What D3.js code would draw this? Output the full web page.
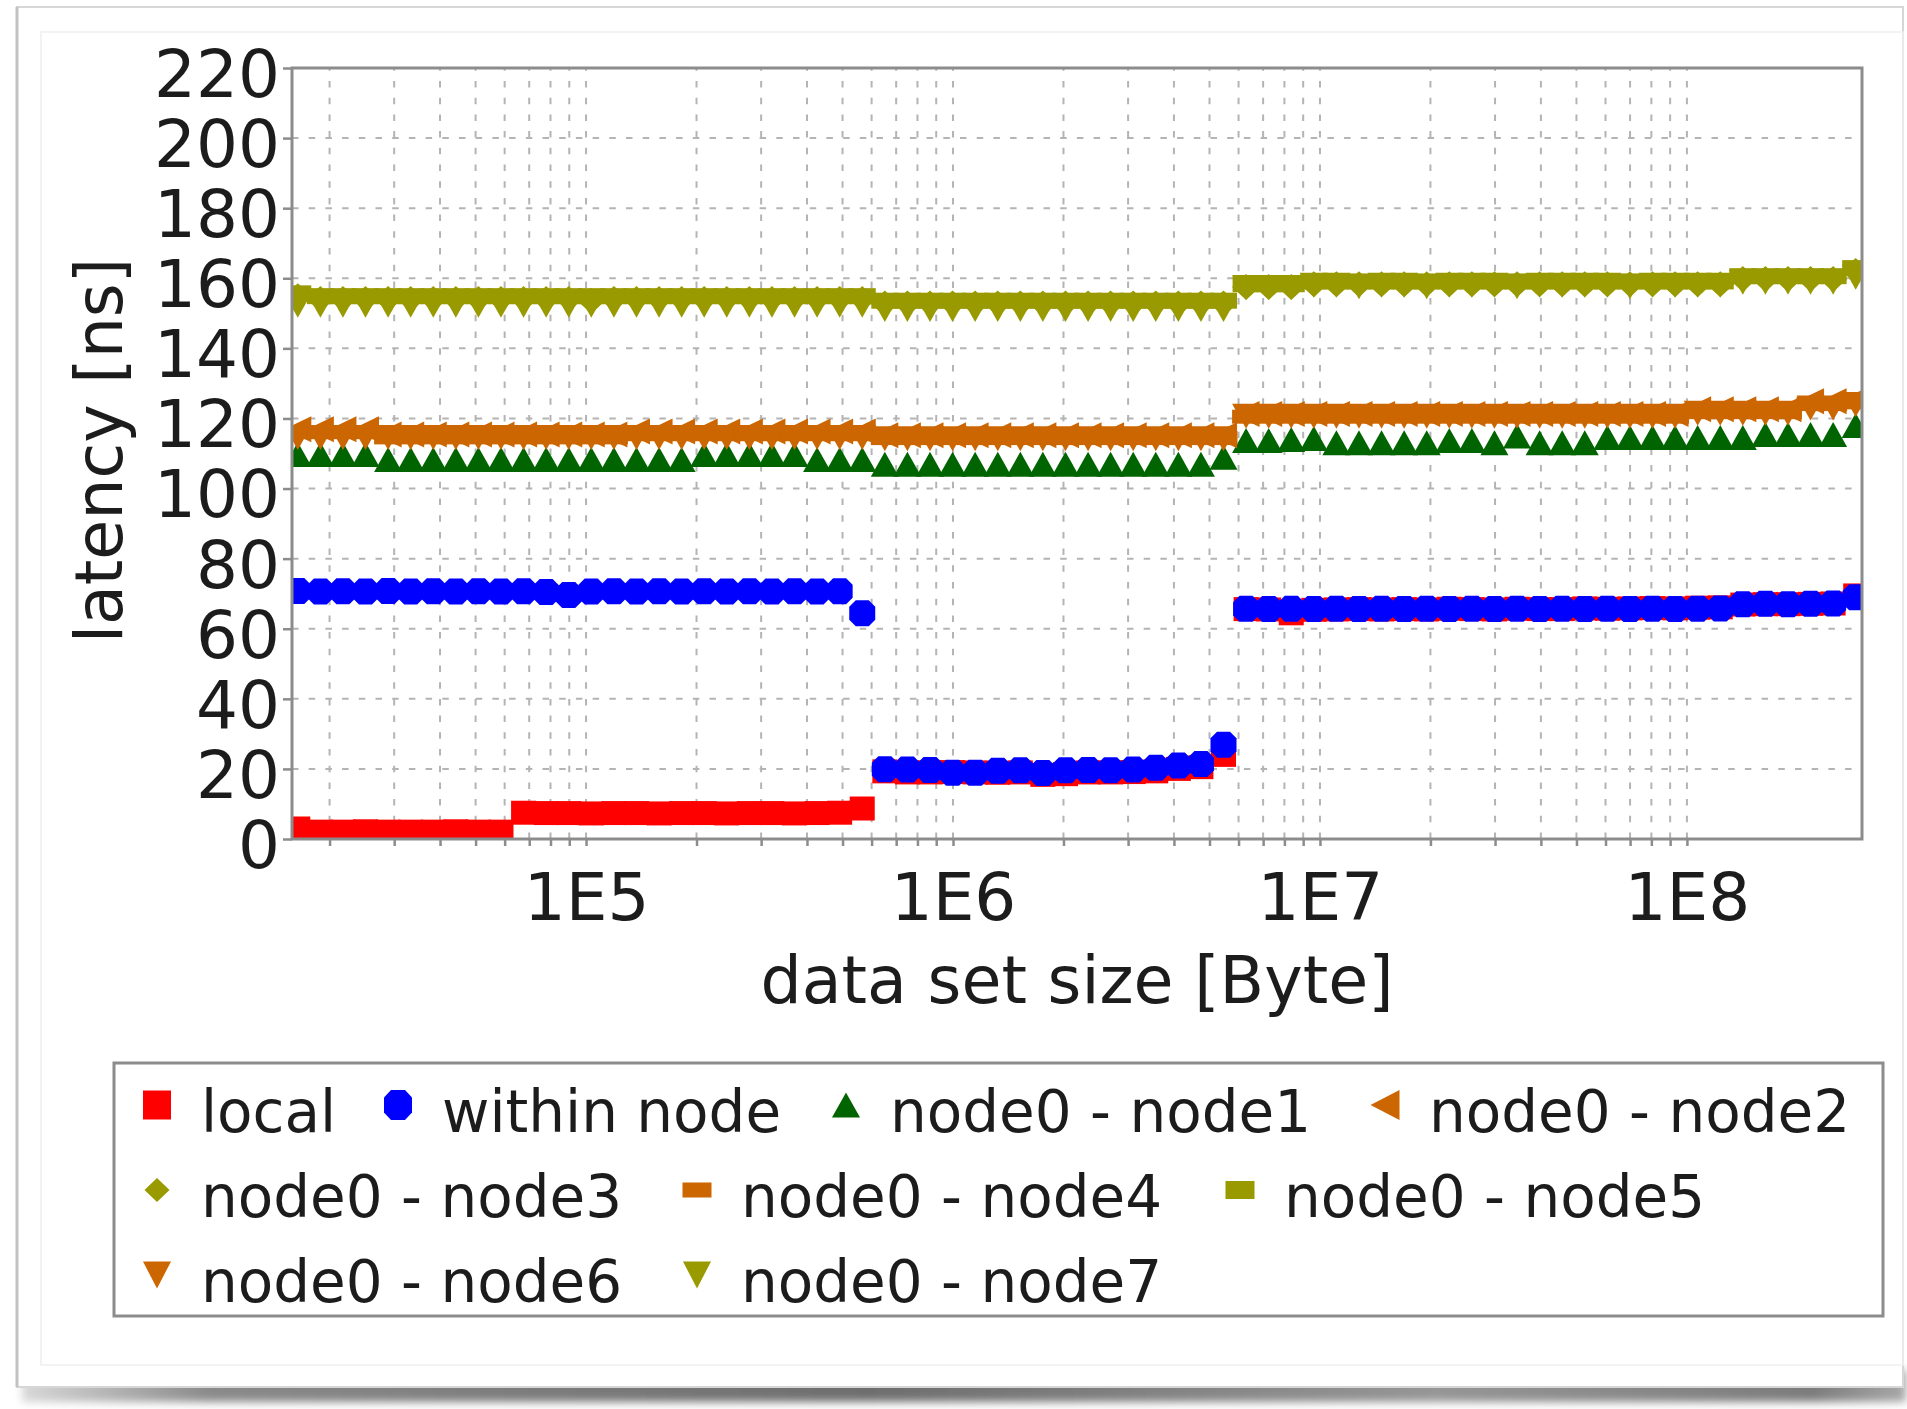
<!DOCTYPE html>
<html>
<head>
<meta charset="utf-8">
<title>Memory access latency by data set size</title>
<script src="https://cdn.jsdelivr.net/npm/d3@7/dist/d3.min.js"></script>
<style>
  html, body { margin: 0; padding: 0; background: #ffffff; }
  svg { display: block; font-family: "DejaVu Sans", Verdana, sans-serif; }
</style>
</head>
<body>
<svg id="chart" width="1907" height="1409"></svg>
<script>
// ---------------------------------------------------------------------------
// Data: data set sizes (KiB) and measured latencies (ns) per access path
// ---------------------------------------------------------------------------
const sizesKiB = [
  16, 18.44, 21.24, 24.47, 28.20, 32.49, 37.44, 43.13, 49.70, 57.26,
  65.98, 76.02, 87.59, 100.9, 116.3, 134.0, 154.4, 177.9, 204.9, 236.1,
  272.1, 313.5, 361.2, 416.2, 479.5, 552.5, 636.6, 733.5, 845.2, 973.8,
  1122, 1293, 1490, 1716, 1978, 2279, 2625, 3025, 3485, 4016,
  4627, 5331, 6143, 7078, 8155, 9396, 10826, 12474, 14372, 16560,
  19081, 21985, 25331, 29186, 33629, 38747, 44645, 51440, 59269, 68290,
  78684, 90660, 104459, 120358, 138677, 159784, 184104, 212125, 244410, 281610
];

const yTickValues = [0, 20, 40, 60, 80, 100, 120, 140, 160, 180, 200, 220];
const xLabelValues = [1e5, 1e6, 1e7, 1e8];
const xLabelText = ["1E5", "1E6", "1E7", "1E8"];

const local = [
  3.0, 2.1, 2.1, 2.2, 2.1, 2.1, 2.1, 2.2, 2.1, 2.1,
  7.5, 7.4, 7.4, 7.3, 7.4, 7.4, 7.3, 7.4, 7.4, 7.3,
  7.4, 7.4, 7.3, 7.4, 7.5, 8.7, 19.3, 19.0, 19.0, 19.1,
  19.0, 18.9, 19.0, 18.3, 18.5, 19.0, 19.0, 19.1, 19.3, 20.0,
  20.5, 24.0, 65.6, 65.5, 64.4, 65.4, 65.5, 65.6, 65.5, 65.6,
  65.5, 65.7, 65.6, 65.5, 65.7, 65.6, 65.6, 65.8, 65.7, 65.8,
  65.9, 65.8, 66.0, 66.1, 66.9, 67.0, 67.0, 67.1, 67.2, 69.5
];
const withinNode = [
  70.8, 70.6, 70.7, 70.6, 70.8, 70.6, 70.7, 70.6, 70.7, 70.6,
  70.7, 70.5, 69.6, 70.6, 70.7, 70.6, 70.7, 70.6, 70.7, 70.6,
  70.7, 70.6, 70.7, 70.6, 70.7, 64.4, 19.9, 19.8, 19.7, 18.9,
  18.9, 19.5, 19.6, 18.8, 19.6, 19.7, 19.6, 19.8, 20.3, 21.0,
  21.4, 26.9, 65.7, 65.6, 65.7, 65.6, 65.7, 65.6, 65.7, 65.6,
  65.7, 65.6, 65.7, 65.6, 65.7, 65.6, 65.7, 65.6, 65.7, 65.6,
  65.7, 65.6, 65.7, 65.8, 67.0, 67.1, 67.0, 67.1, 67.2, 69.0
];
const node01 = [
  109.7, 109.7, 109.7, 109.7, 108.3, 108.3, 108.3, 108.3, 108.3, 108.3,
  108.3, 108.3, 108.3, 108.3, 108.3, 108.3, 108.3, 108.3, 109.7, 109.7,
  109.7, 109.7, 109.7, 108.3, 108.3, 108.3, 106.9, 106.9, 106.9, 106.9,
  106.9, 106.9, 106.9, 106.9, 106.9, 106.9, 106.9, 106.9, 106.9, 106.9,
  106.9, 108.9, 113.7, 113.7, 114.0, 114.3, 113.1, 113.1, 113.1, 113.1,
  113.1, 113.7, 113.7, 113.1, 115.0, 113.1, 113.1, 113.1, 114.6, 114.6,
  114.6, 114.6, 114.6, 114.6, 114.6, 115.4, 115.4, 115.4, 115.4, 118.0
];
const node02 = [
  116.9, 116.9, 116.9, 116.9, 115.4, 115.4, 115.4, 115.4, 115.4, 115.4,
  115.4, 115.4, 115.4, 115.4, 115.4, 116.3, 116.3, 116.3, 116.3, 116.3,
  116.3, 116.3, 116.3, 116.3, 116.3, 116.3, 115.2, 115.2, 115.2, 115.2,
  115.2, 115.2, 115.2, 115.2, 115.2, 115.2, 115.2, 115.2, 115.2, 115.2,
  115.2, 115.2, 121.3, 121.3, 121.3, 121.3, 121.3, 121.3, 121.3, 121.3,
  121.3, 121.3, 121.3, 121.3, 121.3, 121.3, 121.3, 121.3, 121.3, 121.3,
  121.3, 121.3, 122.6, 122.6, 122.6, 122.6, 122.6, 124.9, 124.9, 125.4
];
const node03 = [
  154.9, 154.1, 154.1, 154.1, 154.1, 154.1, 154.1, 154.1, 154.1, 154.1,
  154.1, 154.1, 154.1, 153.6, 154.1, 154.1, 154.1, 154.1, 154.1, 154.1,
  154.1, 154.1, 154.1, 154.1, 154.1, 154.1, 152.8, 152.8, 152.8, 152.8,
  152.8, 152.8, 152.8, 152.8, 152.8, 152.8, 152.8, 152.8, 152.8, 152.8,
  152.8, 152.8, 157.5, 157.5, 157.5, 158.3, 158.3, 158.3, 158.3, 158.3,
  158.3, 158.3, 158.3, 158.3, 158.3, 158.3, 158.3, 158.3, 158.3, 158.3,
  158.3, 158.3, 158.3, 158.3, 159.8, 159.8, 159.8, 159.8, 159.8, 162.1
];
const node04 = [
  116.1, 116.1, 116.1, 116.1, 114.6, 114.6, 114.6, 114.6, 114.6, 114.6,
  114.6, 114.6, 114.6, 114.6, 114.6, 115.5, 115.5, 115.5, 115.5, 115.5,
  115.5, 115.5, 115.5, 115.5, 115.5, 115.5, 114.4, 114.4, 114.4, 114.4,
  114.4, 114.4, 114.4, 114.4, 114.4, 114.4, 114.4, 114.4, 114.4, 114.4,
  114.4, 114.4, 120.5, 120.5, 120.5, 120.5, 120.5, 120.5, 120.5, 120.5,
  120.5, 120.5, 120.5, 120.5, 120.5, 120.5, 120.5, 120.5, 120.5, 120.5,
  120.5, 120.5, 121.8, 121.8, 121.8, 121.8, 121.8, 124.1, 124.1, 124.6
];
const node05 = [
  155.7, 154.9, 154.9, 154.9, 154.9, 154.9, 154.9, 154.9, 154.9, 154.9,
  154.9, 154.9, 154.9, 154.9, 154.9, 154.9, 154.9, 154.9, 154.9, 154.9,
  154.9, 154.9, 154.9, 154.9, 154.9, 154.9, 153.6, 153.6, 153.6, 153.6,
  153.6, 153.6, 153.6, 153.6, 153.6, 153.6, 153.6, 153.6, 153.6, 153.6,
  153.6, 153.6, 158.3, 158.3, 158.3, 159.1, 159.1, 159.1, 159.1, 159.1,
  159.1, 159.1, 159.1, 159.1, 159.1, 159.1, 159.1, 159.1, 159.1, 159.1,
  159.1, 159.1, 159.1, 159.1, 160.6, 160.6, 160.6, 160.6, 160.6, 162.9
];
const node06 = [
  114.6, 114.6, 114.6, 114.6, 114.6, 114.6, 114.6, 114.6, 114.6, 114.6,
  114.6, 114.6, 114.6, 114.6, 114.6, 114.6, 114.6, 114.6, 114.6, 114.6,
  114.6, 114.6, 114.6, 114.6, 114.6, 114.6, 114.2, 114.2, 114.2, 114.2,
  114.2, 114.2, 114.2, 114.2, 114.2, 114.2, 114.2, 114.2, 114.2, 114.2,
  114.2, 114.2, 120.6, 120.6, 120.6, 120.6, 120.6, 120.6, 120.6, 120.6,
  120.6, 120.6, 120.6, 120.6, 120.6, 120.6, 120.6, 120.6, 120.6, 120.6,
  120.6, 120.6, 121.5, 121.5, 121.5, 121.5, 121.5, 123.0, 123.0, 124.0
];
const node07 = [
  152.3, 152.3, 152.3, 152.3, 152.3, 152.3, 152.3, 152.3, 152.3, 152.3,
  152.3, 152.3, 152.3, 152.3, 152.3, 152.3, 152.3, 152.3, 152.3, 152.3,
  152.3, 152.3, 152.3, 152.3, 152.3, 152.3, 151.1, 151.1, 151.1, 151.1,
  151.1, 151.1, 151.1, 151.1, 151.1, 151.1, 151.1, 151.1, 151.1, 151.1,
  151.1, 151.1, 157.4, 157.4, 157.4, 158.0, 158.0, 157.6, 158.0, 158.0,
  157.6, 158.0, 158.0, 158.0, 157.6, 158.0, 158.0, 158.0, 158.0, 157.6,
  158.0, 158.0, 158.0, 158.0, 158.9, 158.9, 158.9, 158.9, 158.9, 160.3
];

const seriesNames = ["local", "within node", "node0 - node1", "node0 - node2",
  "node0 - node3", "node0 - node4", "node0 - node5", "node0 - node6", "node0 - node7"];
const seriesValues = [local, withinNode, node01, node02, node03, node04, node05, node06, node07];
const seriesColors = ["#ff0000", "#0000ff", "#006400", "#cc6600",
  "#999900", "#cc6600", "#999900", "#cc6600", "#999900"];
const seriesShapes = ["square", "circle", "triUp", "triLeft",
  "diamond", "hrect", "rect", "triDown", "triDown"];

// ---------------------------------------------------------------------------
// Marker shapes (centred on 0,0; w = width, t = height)
// ---------------------------------------------------------------------------
function shapePath(shape, w, t) {
  const h = w / 2, v = t / 2;
  switch (shape) {
    case "square":  return `M${-h},${-v}H${h}V${v}H${-h}Z`;
    case "circle": {
      // small raster-style circle: an octagon with short chamfers
      const c = h * 0.5, cv = v * 0.5;
      return `M${-c},${-v}H${c}L${h},${-cv}V${cv}L${c},${v}H${-c}L${-h},${cv}V${-cv}Z`;
    }
    case "triUp":   return `M0,${-v}L${h},${v}L${-h},${v}Z`;
    case "triLeft": return `M${-h},0L${h},${-v}L${h},${v}Z`;
    case "diamond": return `M0,${-v}L${h},0L0,${v}L${-h},0Z`;
    case "hrect":   return `M${-h},${-v}H${h}V${v}H${-h}Z`;
    case "rect":    return `M${-h},${-v}H${h}V${v}H${-h}Z`;
    case "triDown": return `M${-h},${-v}L${h},${-v}L0,${v}Z`;
  }
  return "";
}

// ---------------------------------------------------------------------------
// Page frame: card with a soft shadow below it
// ---------------------------------------------------------------------------
const svg = d3.select("#chart");
const defs = svg.append("defs");

const grad = defs.append("linearGradient").attr("id", "shadowGrad")
  .attr("x1", "0").attr("x2", "1").attr("y1", "0").attr("y2", "0");
[[0, "#d8d8d8"], [0.1, "#8a8a8a"], [0.45, "#6e6e6e"], [0.75, "#969696"], [0.95, "#7c7c7c"], [1, "#a8a8a8"]]
  .forEach(([o, c]) => grad.append("stop").attr("offset", o).attr("stop-color", c));
defs.append("filter").attr("id", "soft").attr("x", "-5%").attr("y", "-100%").attr("width", "110%").attr("height", "300%")
  .append("feGaussianBlur").attr("stdDeviation", 4.5);

svg.append("rect").attr("x", 22).attr("y", 1370).attr("width", 1884).attr("height", 32)
  .attr("fill", "url(#shadowGrad)").attr("filter", "url(#soft)");
svg.append("rect").attr("x", 17).attr("y", 7).attr("width", 1886).attr("height", 1380)
  .attr("fill", "#ffffff").attr("stroke", "#d6d6d6").attr("stroke-width", 2);
svg.append("line").attr("x1", 17).attr("x2", 17).attr("y1", 7).attr("y2", 1387)
  .attr("stroke", "#c2c2c2").attr("stroke-width", 3);
svg.append("rect").attr("x", 41).attr("y", 32).attr("width", 1862).attr("height", 1333)
  .attr("fill", "none").attr("stroke", "#efefef").attr("stroke-width", 1.5);

// ---------------------------------------------------------------------------
// Scales
// ---------------------------------------------------------------------------
const plot = { left: 292, top: 68, right: 1862, bottom: 839 };
const x = d3.scaleLog().domain([15800, 3.0e8]).range([plot.left, plot.right]);
const y = d3.scaleLinear().domain([0, 220]).range([plot.bottom, plot.top]);

// log grid: every 1..9 x 10^e inside the domain, up to the last full decade
const xGridValues = [];
for (let e = 4; e <= 7; e++) {
  for (let k = 1; k <= 9; k++) {
    const v = k * Math.pow(10, e);
    if (v >= x.domain()[0]) xGridValues.push(v);
  }
}
xGridValues.push(1e8);

// ---------------------------------------------------------------------------
// Grid
// ---------------------------------------------------------------------------
const grid = svg.append("g").attr("stroke", "#b4b4b4").attr("stroke-width", 2)
  .attr("stroke-dasharray", "6.5,10.2");
grid.selectAll("line.h").data(yTickValues.filter(v => v > 0 && v < 220)).join("line")
  .attr("class", "h")
  .attr("x1", plot.left).attr("x2", plot.right)
  .attr("y1", d => y(d)).attr("y2", d => y(d));
grid.selectAll("line.v").data(xGridValues).join("line")
  .attr("class", "v")
  .attr("x1", d => x(d)).attr("x2", d => x(d))
  .attr("y1", plot.bottom).attr("y2", plot.top);

// ---------------------------------------------------------------------------
// Series markers
// ---------------------------------------------------------------------------
defs.append("clipPath").attr("id", "plotClip").append("rect")
  .attr("x", plot.left).attr("y", plot.top)
  .attr("width", plot.right - plot.left).attr("height", plot.bottom - plot.top);

const marks = svg.append("g").attr("clip-path", "url(#plotClip)");
const plotSize = {
  square: [25, 24], circle: [26, 26], triUp: [28, 25], triLeft: [27, 26],
  diamond: [28, 26], hrect: [28, 14], rect: [27, 16], triDown: [28, 25]
};

seriesValues.forEach((vals, si) => {
  const shape = seriesShapes[si];
  const d = shapePath(shape, plotSize[shape][0], plotSize[shape][1]);
  marks.append("g").attr("fill", seriesColors[si])
    .selectAll("path").data(vals).join("path")
    .attr("d", d)
    .attr("transform", (v, i) => `translate(${x(sizesKiB[i] * 1024)},${y(v)})`);
});

// ---------------------------------------------------------------------------
// Frame and axes
// ---------------------------------------------------------------------------
svg.append("rect")
  .attr("x", plot.left).attr("y", plot.top)
  .attr("width", plot.right - plot.left).attr("height", plot.bottom - plot.top)
  .attr("fill", "none").attr("stroke", "#8c8c8c").attr("stroke-width", 3);

const xAxis = d3.axisBottom(x).tickValues(xGridValues).tickSize(7).tickPadding(27)
  .tickFormat(v => { const i = xLabelValues.indexOf(v); return i >= 0 ? xLabelText[i] : ""; });
svg.append("g").attr("transform", `translate(0,${plot.bottom})`).call(xAxis)
  .call(g => g.select(".domain").remove())
  .call(g => g.selectAll(".tick line").attr("stroke", "#8c8c8c").attr("stroke-width", 2.5))
  .call(g => g.selectAll(".tick text").attr("fill", "#1c1c1c")
    .attr("font-size", 66).attr("font-family", "DejaVu Sans"));

const yAxis = d3.axisLeft(y).tickValues(yTickValues).tickSize(9).tickPadding(3)
  .tickFormat(d3.format("d"));
svg.append("g").attr("transform", `translate(${plot.left},0)`).call(yAxis)
  .call(g => g.select(".domain").remove())
  .call(g => g.selectAll(".tick line").attr("stroke", "#8c8c8c").attr("stroke-width", 2.5))
  .call(g => g.selectAll(".tick text").attr("fill", "#1c1c1c").attr("dy", "0.43em")
    .attr("font-size", 66).attr("font-family", "DejaVu Sans"));

svg.append("text")
  .attr("transform", `translate(122,${(plot.top + plot.bottom) / 2 - 3}) rotate(-90)`)
  .attr("text-anchor", "middle").attr("font-size", 65).attr("fill", "#1c1c1c")
  .text("latency [ns]");
svg.append("text")
  .attr("x", (plot.left + plot.right) / 2).attr("y", 1003)
  .attr("text-anchor", "middle").attr("font-size", 65).attr("fill", "#1c1c1c")
  .text("data set size [Byte]");

// ---------------------------------------------------------------------------
// Legend
// ---------------------------------------------------------------------------
svg.append("rect").attr("x", 114).attr("y", 1063).attr("width", 1769).attr("height", 253)
  .attr("fill", "#ffffff").attr("stroke", "#8c8c8c").attr("stroke-width", 3);

const legendSlots = [
  { cx: 157, row: 0 }, { cx: 398, row: 0 }, { cx: 846, row: 0 }, { cx: 1385, row: 0 },
  { cx: 157, row: 1 }, { cx: 697, row: 1 }, { cx: 1240, row: 1 },
  { cx: 157, row: 2 }, { cx: 697, row: 2 }
];
const rowBaselines = [1132, 1217, 1302];
const legendSize = {
  square: [28, 29], circle: [28, 30], triUp: [28, 25], triLeft: [29, 30],
  diamond: [25, 24], hrect: [29, 15], rect: [29, 18], triDown: [28, 27]
};

const legend = svg.append("g");
legendSlots.forEach((slot, i) => {
  const base = rowBaselines[slot.row];
  const shape = seriesShapes[i];
  legend.append("path")
    .attr("d", shapePath(shape, legendSize[shape][0], legendSize[shape][1]))
    .attr("fill", seriesColors[i])
    .attr("transform", `translate(${slot.cx},${base - 27})`);
  legend.append("text")
    .attr("x", slot.cx + 44).attr("y", base)
    .attr("font-size", 58).attr("fill", "#1c1c1c")
    .text(seriesNames[i]);
});
</script>
</body>
</html>
